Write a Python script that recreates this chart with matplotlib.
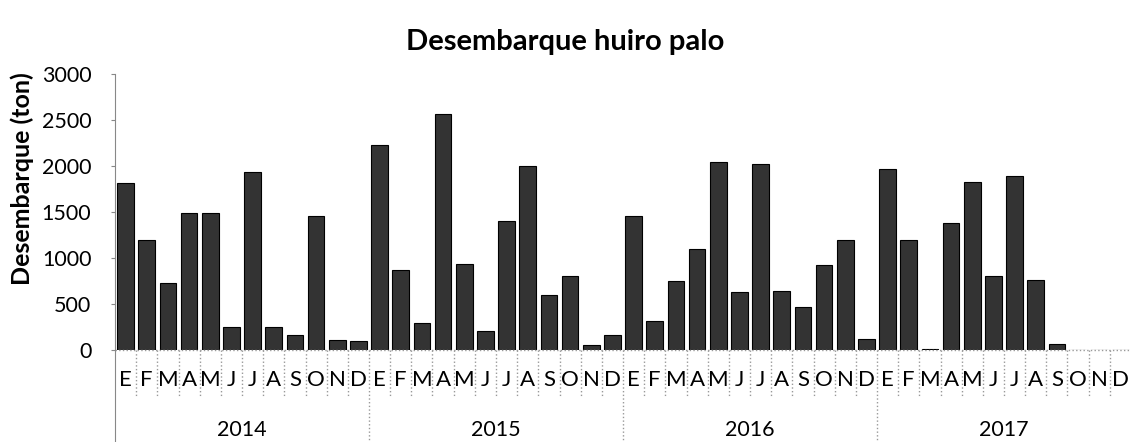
import numpy as np
import matplotlib
matplotlib.use('Agg')
import matplotlib.pyplot as plt
import matplotlib.transforms as mtrans

plt.rcParams['font.family'] = ['Lato', 'DejaVu Sans']

years = ['2014', '2015', '2016', '2017']
months = ['E', 'F', 'M', 'A', 'M', 'J', 'J', 'A', 'S', 'O', 'N', 'D']

# landings (ton) per month
land2014 = [1820, 1200, 730, 1490, 1490, 250, 1930, 250, 160, 1460, 110, 100]
land2015 = [2230, 865, 295, 2570, 930, 210, 1405, 2000, 595, 800, 58, 160]
land2016 = [1460, 315, 745, 1095, 2040, 630, 2025, 645, 470, 920, 1195, 123]
land2017 = [1970, 1195, 8, 1385, 1825, 800, 1890, 765, 68, 0, 0, 0]

values = land2014 + land2015 + land2016 + land2017
nMonths = len(values)
xPos = np.arange(nMonths)

fig = plt.figure(figsize=(11.31, 4.42), dpi=100)
ax = fig.add_axes([115 / 1131, 1 - 350 / 442, 1016 / 1131, 276 / 442])

ax.bar(xPos, values, width=0.78, color='#333333', edgecolor='black', linewidth=0.8)

ax.set_xlim(-0.5, nMonths - 0.5)
ax.set_ylim(0, 3000)
ax.set_yticks(np.arange(0, 3001, 500))
ax.tick_params(axis='y', labelsize=15.5, length=3, color='#888888', pad=14)
ax.set_xticks([])
for side in ['top', 'right', 'bottom']:
    ax.spines[side].set_visible(False)
ax.spines['left'].set_color('#888888')
ax.spines['left'].set_linewidth(0.8)

ax.set_ylabel('Desembarque (ton)', fontsize=18, fontweight='bold')
ax.yaxis.set_label_coords(-0.08, 0.62)
fig.text(0.5, 0.905, 'Desembarque huiro palo', ha='center', va='center',
         fontsize=21, fontweight='bold')

# category axis drawn by hand below the plot
trans = mtrans.blended_transform_factory(ax.transData, ax.transAxes)
ax.plot([-0.5, nMonths - 0.5], [0, 0], transform=trans, color='#999999',
        linestyle=':', linewidth=1, clip_on=False)
ax.plot([-0.5, -0.5], [0, -0.333], transform=trans, color='#888888',
        linewidth=0.8, clip_on=False)
for i in range(1, nMonths):
    bottom = -0.333 if i % 12 == 0 else -0.165
    ax.plot([i - 0.5, i - 0.5], [0, bottom], transform=trans, color='#999999',
            linestyle=':', linewidth=1, clip_on=False)
for i in range(nMonths):
    ax.text(i, -0.108, months[i % 12], transform=trans, ha='center',
            va='center', fontsize=16)
for j, yr in enumerate(years):
    ax.text(j * 12 + 5.5, -0.29, yr, transform=trans, ha='center',
            va='center', fontsize=15.5)

fig.savefig('out.png', dpi=100)
